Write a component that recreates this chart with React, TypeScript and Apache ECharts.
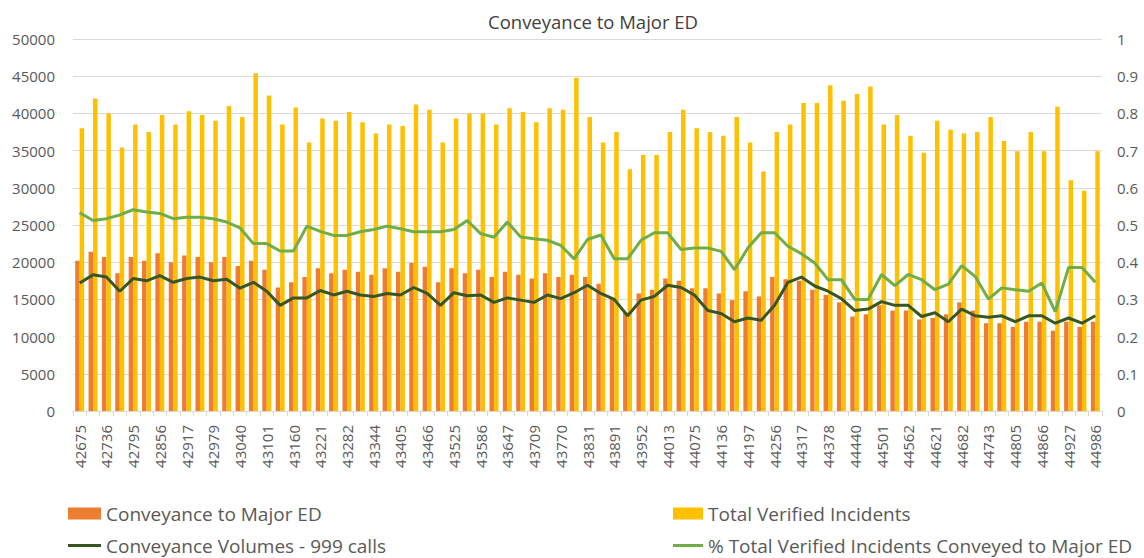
import React, { useEffect, useRef } from "react";
import * as echarts from "echarts";

const categories = [
  "42675","42705","42736","42767","42795","42826","42856","42887","42917","42948","42979","43009","43040","43070","43101","43132","43160","43191","43221","43252","43282","43313","43344","43374","43405","43435","43466","43497","43525","43556","43586","43617","43647","43678","43709","43739","43770","43800","43831","43862","43891","43922","43952","43983","44013","44044","44075","44105","44136","44166","44197","44228","44256","44287","44317","44348","44378","44409","44440","44470","44501","44531","44562","44593","44621","44652","44682","44713","44743","44774","44805","44835","44866","44896","44927","44958","44986"
];

const conveyanceMajorED = [
  20200,21400,20700,18500,20700,20200,21200,20000,20900,20700,20000,20700,19500,20200,19000,16600,17300,18000,19200,18500,19000,18700,18300,19200,18700,19900,19400,17300,19200,18500,19000,18000,18700,18300,17800,18500,18000,18300,18000,17100,15200,13200,15800,16300,17800,17500,16500,16500,15800,14900,16100,15400,18000,17700,17500,16300,15600,14600,12700,13000,14200,13500,13500,12300,12500,13000,14600,13500,11800,11800,11300,12000,12000,10800,12000,11300,12000
];

const totalVerified = [
  38000,42000,40000,35400,38500,37500,39800,38500,40300,39800,39000,41000,39500,45400,42400,38500,40800,36100,39300,39000,40200,38800,37300,38500,38300,41200,40500,36100,39300,40000,40000,38500,40700,40200,38800,40700,40500,44800,39500,36100,37500,32500,34400,34400,37500,40500,38000,37500,37000,39500,36100,32200,37500,38500,41400,41400,43800,41700,42600,43600,38500,39800,37000,34700,39000,37800,37300,37500,39500,36300,34900,37500,34900,40900,31000,29600,34900
];

const volumes999 = [
  17200,18300,18000,16100,17800,17500,18200,17300,17800,18000,17500,17700,16500,17300,16100,14200,15200,15200,16200,15600,16100,15600,15400,15800,15600,16600,15800,14200,15900,15500,15600,14600,15200,14900,14600,15600,15100,15900,16900,15800,15000,12800,14900,15400,16900,16600,15600,13500,13100,12000,12500,12200,14200,17300,18000,16800,16100,15100,13500,13700,14700,14200,14200,12700,13200,12000,13700,12800,12600,12800,12000,12800,12800,11800,12500,11800,12800
];

const pctConveyed = [
  0.533,0.512,0.517,0.527,0.541,0.535,0.531,0.517,0.521,0.521,0.517,0.508,0.492,0.45,0.45,0.43,0.43,0.497,0.483,0.472,0.472,0.482,0.488,0.497,0.49,0.482,0.482,0.482,0.488,0.512,0.477,0.467,0.508,0.468,0.463,0.459,0.445,0.409,0.461,0.473,0.409,0.409,0.459,0.479,0.479,0.434,0.438,0.438,0.429,0.38,0.438,0.479,0.479,0.443,0.423,0.398,0.353,0.353,0.3,0.3,0.367,0.337,0.367,0.353,0.326,0.341,0.391,0.362,0.301,0.331,0.326,0.322,0.344,0.267,0.386,0.386,0.346
];

const FONT = "'Open Sans', 'Noto Sans', sans-serif";
const LABEL = "#595959";
const GRID = "#d9d9d9";

export default function App() {
  const ref = useRef<HTMLDivElement>(null);
  useEffect(() => {
    document.body.style.margin = "0";
    const chart = echarts.init(ref.current!, null, { renderer: "svg" });
    const legendText = { color: LABEL, fontSize: 19, fontFamily: FONT };
    chart.setOption({
      animation: false,
      backgroundColor: "#ffffff",
      textStyle: { fontFamily: FONT },
      title: {
        text: "Conveyance to Major ED",
        left: 483,
        top: 7,
        textStyle: { color: "#404040", fontSize: 18.5, fontWeight: "normal", fontFamily: FONT },
      },
      grid: { left: 73, right: 42, top: 39, bottom: 147 },
      legend: [
        { data: ["Conveyance to Major ED"], left: 68, top: 504, icon: "rect", itemWidth: 33, itemHeight: 12, padding: 0, textStyle: legendText },
        { data: ["Total Verified Incidents"], left: 673, top: 504, icon: "rect", itemWidth: 30, itemHeight: 12, padding: 0, textStyle: legendText },
        { data: ["Conveyance Volumes - 999 calls"], left: 68, top: 536, icon: "rect", itemWidth: 33, itemHeight: 3, padding: 0, textStyle: legendText },
        { data: ["% Total Verified Incidents Conveyed to Major ED"], left: 673, top: 536, icon: "rect", itemWidth: 30, itemHeight: 3, padding: 0, textStyle: legendText },
      ],
      xAxis: {
        type: "category",
        data: categories,
        boundaryGap: true,
        axisLine: { lineStyle: { color: GRID } },
        axisTick: { show: true, interval: 0, length: 5, lineStyle: { color: GRID } },
        axisLabel: { interval: 1, rotate: 90, color: LABEL, fontSize: 15, fontFamily: FONT, margin: 14 },
        splitLine: { show: false },
      },
      yAxis: [
        {
          type: "value",
          min: 0,
          max: 50000,
          interval: 5000,
          axisLine: { show: false },
          axisTick: { show: false },
          axisLabel: { color: LABEL, fontSize: 15, fontFamily: FONT, margin: 18, formatter: (v: number) => String(v) },
          splitLine: { lineStyle: { color: GRID } },
        },
        {
          type: "value",
          min: 0,
          max: 1,
          interval: 0.1,
          position: "right",
          axisLine: { show: false },
          axisTick: { show: false },
          axisLabel: { color: LABEL, fontSize: 15, fontFamily: FONT, margin: 15, formatter: (v: number) => String(Math.round(v * 10) / 10) },
          splitLine: { show: false },
        },
      ],
      series: [
        {
          name: "Conveyance to Major ED",
          type: "bar",
          data: conveyanceMajorED,
          itemStyle: { color: "#ed7d31" },
          barGap: "0%",
          barCategoryGap: "33%",
        },
        {
          name: "Total Verified Incidents",
          type: "bar",
          data: totalVerified,
          itemStyle: { color: "#ffc000" },
          barGap: "0%",
          barCategoryGap: "33%",
        },
        {
          name: "Conveyance Volumes - 999 calls",
          type: "line",
          data: volumes999,
          showSymbol: false,
          symbol: "none",
          itemStyle: { color: "#375623" },
          lineStyle: { color: "#375623", width: 3 },
          z: 3,
        },
        {
          name: "% Total Verified Incidents Conveyed to Major ED",
          type: "line",
          yAxisIndex: 1,
          data: pctConveyed,
          showSymbol: false,
          symbol: "none",
          itemStyle: { color: "#70ad47" },
          lineStyle: { color: "#70ad47", width: 3 },
          z: 4,
        },
      ],
    });
    return () => chart.dispose();
  }, []);
  return <div ref={ref} style={{ width: 1144, height: 558 }} />;
}
